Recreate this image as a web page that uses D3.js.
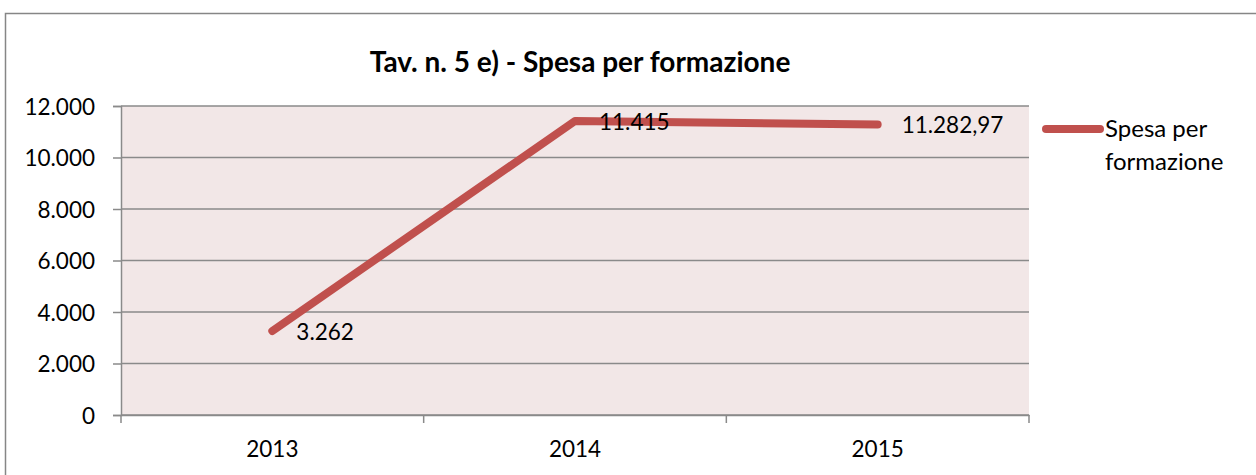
<!DOCTYPE html>
<html><head><meta charset="utf-8">
<script src="https://cdn.jsdelivr.net/npm/d3@7"></script>
<style>body{margin:0;background:#fff}svg{display:block;font-family:Lato,"Open Sans",sans-serif}</style>
</head><body><svg id="c" width="1256" height="475"></svg>
<script>
const categories = ["2013","2014","2015"];
const values = [3262, 11415, 11282.97];
const valueLabels = ["3.262","11.415","11.282,97"];
const yTicks = [0,2000,4000,6000,8000,10000,12000];
const yTickLabels = ["0","2.000","4.000","6.000","8.000","10.000","12.000"];
const seriesName = ["Spesa per","formazione"];
const title = "Tav. n. 5 e) - Spesa per formazione";

const svg = d3.select("#c");
const L=121, R=1029, T=106, B=415;
const FS=22.5;
svg.append("rect").attr("x",5.5).attr("y",13.5).attr("width",1260).attr("height",480)
  .attr("fill","#fff").attr("stroke","#868686").attr("stroke-width",1.5);
svg.append("rect").attr("x",L).attr("y",T).attr("width",R-L).attr("height",B-T).attr("fill","#F2E7E7");

const x = d3.scaleBand().domain(categories).range([L,R]);
const y = d3.scaleLinear().domain([0,12000]).range([B,T]);

svg.append("g").selectAll("line").data(yTicks).join("line")
  .attr("x1",L).attr("x2",R).attr("y1",d=>y(d)).attr("y2",d=>y(d))
  .attr("stroke","#8a8a8a").attr("stroke-width",1.3);

const ya = svg.append("g").attr("transform",`translate(${L},0)`)
  .call(d3.axisLeft(y).tickValues(yTicks).tickFormat((d,i)=>yTickLabels[i]).tickSize(8).tickPadding(18));
ya.select(".domain").attr("stroke","#8a8a8a").attr("stroke-width",1.5);
ya.selectAll(".tick line").attr("stroke","#8a8a8a").attr("stroke-width",1.5);
ya.selectAll("text").attr("font-size",FS).attr("fill","#000").attr("font-family","Lato,'Open Sans',sans-serif")
  .attr("dy","0.36em");

const xa = svg.append("g").attr("transform",`translate(0,${B})`)
  .call(d3.axisBottom(x).tickSize(0).tickPadding(0));
xa.select(".domain").attr("stroke","#8a8a8a").attr("stroke-width",1.5);
xa.selectAll("text").attr("font-size",FS).attr("fill","#000").attr("font-family","Lato,'Open Sans',sans-serif")
  .attr("y",42).attr("dy",0);
svg.append("g").selectAll("line").data([L, ...categories.map(c=>x(c)+x.bandwidth())]).join("line")
  .attr("x1",d=>d).attr("x2",d=>d).attr("y1",B).attr("y2",B+8)
  .attr("stroke","#8a8a8a").attr("stroke-width",1.5);

const cx = c => x(c)+x.bandwidth()/2;
const line = d3.line().x((d,i)=>cx(categories[i])).y(d=>y(d));
svg.append("path").datum(values).attr("d",line).attr("fill","none")
  .attr("stroke","#C0504D").attr("stroke-width",8).attr("stroke-linecap","round").attr("stroke-linejoin","round");

svg.append("g").selectAll("text").data(values).join("text")
  .attr("x",(d,i)=>cx(categories[i])+24).attr("y",d=>y(d)+9)
  .attr("font-size",FS).text((d,i)=>valueLabels[i]);

svg.append("text").attr("x",580).attr("y",72).attr("text-anchor","middle")
  .attr("font-size",28).attr("font-weight","bold").text(title);

svg.append("line").attr("x1",1046).attr("x2",1100).attr("y1",129).attr("y2",129)
  .attr("stroke","#C0504D").attr("stroke-width",8).attr("stroke-linecap","round");
svg.append("g").selectAll("text").data(seriesName).join("text")
  .attr("x",1105).attr("y",(d,i)=>137+i*33).attr("font-size",24).text(d=>d);
</script></body></html>
